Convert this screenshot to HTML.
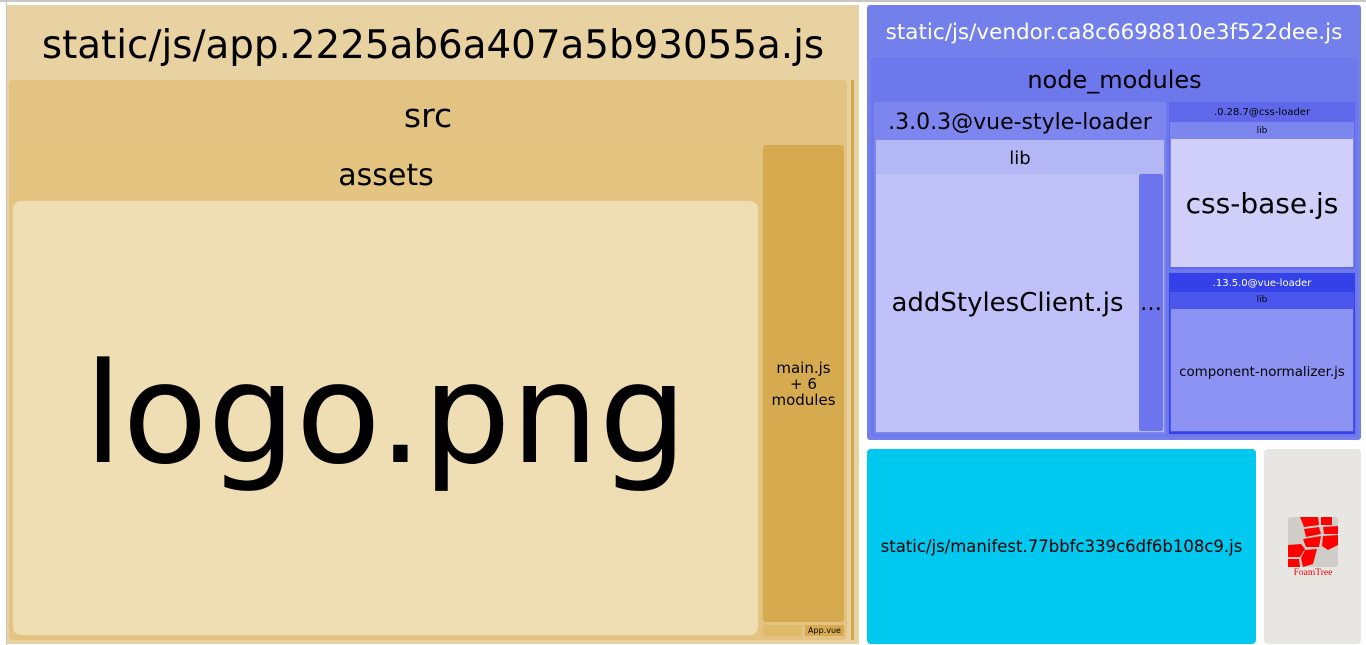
<!DOCTYPE html>
<html><head><meta charset="utf-8"><style>
body{margin:0;width:1366px;height:645px;background:#fff;position:relative;overflow:hidden;font-family:"Segoe UI","DejaVu Sans","Liberation Sans",sans-serif;}
div{position:absolute;box-sizing:border-box;}
.c{display:flex;align-items:center;justify-content:center;text-align:center;color:#000;white-space:nowrap;}
</style></head><body>
<div style="left:0;top:0;width:1366px;height:2px;background:#c9c6c3"></div>
<div style="left:6px;top:0;width:1px;height:645px;background:#c9c6c3"></div>

<div style="left:7px;top:5px;width:852px;height:639px;background:#e8d2a1"></div>
<div class="c" style="left:7px;top:14px;width:852px;height:62px;font-size:38.8px">static/js/app.2225ab6a407a5b93055a.js</div>
<div style="left:9px;top:80px;width:838px;height:560px;background:#e3c382;border-radius:4px"></div>
<div class="c" style="left:9px;top:92px;width:838px;height:46px;font-size:33px">src</div>
<div style="left:851px;top:80px;width:3px;height:560px;background:#d5aa4e"></div>
<div style="left:11px;top:145px;width:750px;height:493px;background:#e3c481;border-radius:3px"></div>
<div class="c" style="left:11px;top:155px;width:750px;height:40px;font-size:30px">assets</div>
<div style="left:13px;top:201px;width:745px;height:434px;background:#efdeb3;border-radius:8px"></div>
<div class="c" style="left:13px;top:201px;width:745px;height:434px;font-size:139px;padding-bottom:8px">logo.png</div>
<div style="left:763px;top:145px;width:81px;height:477px;background:#d6ab50;border-radius:3px"></div>
<div class="c" style="left:763px;top:145px;width:81px;height:477px;font-size:15px;line-height:16px">main.js<br>+ 6<br>modules</div>
<div style="left:763px;top:625px;width:39px;height:11px;background:#dfba6b"></div>
<div class="c" style="left:805px;top:625px;width:39px;height:11px;background:#d6ab50;font-size:8px">App.vue</div>

<div style="left:867px;top:5px;width:494px;height:435px;background:#7380ec;border-radius:3px"></div>
<div class="c" style="left:867px;top:14px;width:494px;height:36px;font-size:21.5px;color:#fff">static/js/vendor.ca8c6698810e3f522dee.js</div>
<div style="left:871px;top:58px;width:487px;height:379px;background:#6e78ed;border-radius:3px"></div>
<div class="c" style="left:871px;top:64px;width:487px;height:32px;font-size:24px">node_modules</div>
<div style="left:874px;top:102px;width:292px;height:332px;background:#7d86ef"></div>
<div class="c" style="left:874px;top:106px;width:292px;height:32px;font-size:22px">.3.0.3@vue-style-loader</div>
<div style="left:876px;top:140px;width:288px;height:292px;background:#b4b7f6"></div>
<div class="c" style="left:876px;top:145px;width:288px;height:26px;font-size:18px">lib</div>
<div style="left:876px;top:174px;width:263px;height:258px;background:#bfc1f8"></div>
<div class="c" style="left:876px;top:174px;width:263px;height:258px;font-size:26px">addStylesClient.js</div>
<div style="left:1139px;top:174px;width:24px;height:257px;background:#6c75ed;border-radius:2px"></div>
<div class="c" style="left:1139px;top:288px;width:24px;height:30px;font-size:22px">…</div>
<div style="left:1169px;top:102px;width:186px;height:167px;background:#5f68eb"></div>
<div class="c" style="left:1169px;top:104px;width:186px;height:16px;font-size:10px">.0.28.7@css-loader</div>
<div style="left:1170px;top:122px;width:184px;height:145px;background:#7d86ef"></div>
<div class="c" style="left:1170px;top:123px;width:184px;height:15px;font-size:9px">lib</div>
<div style="left:1171px;top:139px;width:182px;height:128px;background:#cfcff9"></div>
<div class="c" style="left:1171px;top:139px;width:182px;height:128px;font-size:28px">css-base.js</div>
<div style="left:1169px;top:273px;width:186px;height:161px;background:#3441e8"></div>
<div class="c" style="left:1169px;top:276px;width:186px;height:15px;font-size:10px;color:#fff">.13.5.0@vue-loader</div>
<div style="left:1170px;top:292px;width:184px;height:140px;background:#4a56ec"></div>
<div class="c" style="left:1170px;top:293px;width:184px;height:14px;font-size:9px">lib</div>
<div style="left:1171px;top:309px;width:182px;height:122px;background:#8d93f2"></div>
<div class="c" style="left:1171px;top:311px;width:182px;height:122px;font-size:13.4px">component-normalizer.js</div>

<div style="left:867px;top:449px;width:389px;height:195px;background:#00c8ef;border-radius:4px"></div>
<div class="c" style="left:867px;top:449px;width:389px;height:195px;font-size:16.5px">static/js/manifest.77bbfc339c6df6b108c9.js</div>
<div style="left:1264px;top:449px;width:97px;height:195px;background:#e7e6e2;border-radius:4px"></div>
<svg style="position:absolute;left:1288px;top:517px" width="50" height="62" viewBox="0 0 50 62">
<rect x="0" y="0" width="50" height="50" fill="#d0cdc8" rx="3"/>
<polygon points="12,0 30,0 31,8 16,10" fill="#f00"/>
<polygon points="33,0 44,0 44,8 33,8" fill="#f00"/>
<polygon points="16,12 31,10 33,17 18,20" fill="#f00"/>
<polygon points="35,10 50,9 50,17 36,17" fill="#f00"/>
<polygon points="15,22 33,19 31,30 18,30" fill="#f00"/>
<polygon points="35,19 50,18 50,28 40,33 34,29" fill="#f00"/>
<polygon points="0,28 13,27 17,32 12,40 0,40" fill="#f00"/>
<polygon points="17,33 29,32 25,47 15,50 13,41" fill="#f00"/>
<polygon points="0,42 11,42 12,50 0,50" fill="#f00"/>
<text x="25" y="58" font-size="9.5" fill="#e00" text-anchor="middle" font-family="Liberation Serif,serif">FoamTree</text>
</svg>
</body></html>
